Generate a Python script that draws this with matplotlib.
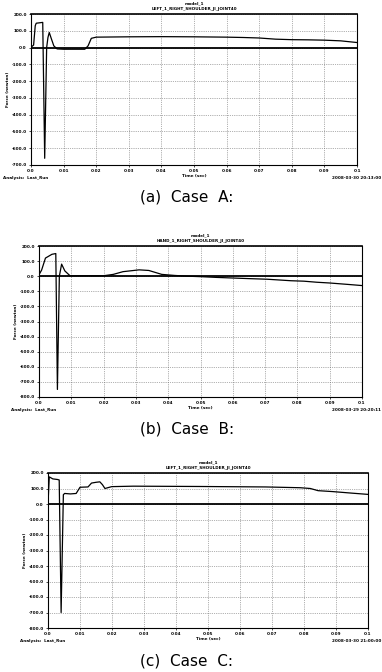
import numpy as np
import matplotlib
matplotlib.use("Agg")
import matplotlib.pyplot as plt
from matplotlib.ticker import FixedLocator

W, H = 382, 672

# ---- data (time in sec, force in newton)
time_a = [0, 0.0002, 0.0008, 0.0013, 0.0016, 0.0036, 0.0042, 0.0048, 0.0052, 0.0056,
          0.0062, 0.0070, 0.0080, 0.010, 0.014, 0.0165, 0.0175, 0.0185, 0.020, 0.030,
          0.040, 0.050, 0.060, 0.065, 0.070, 0.075, 0.080, 0.085, 0.090, 0.095, 0.100]
force_a = [0, 5, 15, 130, 145, 150, -660, 0, 60, 90,
           55, 10, -8, -10, -10, -10, 10, 55, 62, 64,
           65, 64, 62, 60, 57, 50, 47, 46, 44, 40, 30]

time_b = [0, 0.0008, 0.0020, 0.0040, 0.0052, 0.0057, 0.0063, 0.0070, 0.0080, 0.0096,
          0.015, 0.020, 0.023, 0.026, 0.031, 0.034, 0.038, 0.042, 0.046, 0.050,
          0.055, 0.060, 0.065, 0.0706, 0.078, 0.082, 0.086, 0.090, 0.096, 0.100]
force_b = [10, 40, 120, 145, 150, -750, 0, 80, 35, 3,
           3, 3, 12, 30, 42, 38, 12, 5, 0, -3,
           -8, -12, -16, -20, -30, -33, -40, -45, -55, -62]

time_c = [0, 0.0004, 0.0015, 0.0030, 0.0035, 0.0041, 0.0048, 0.0052, 0.0070, 0.0088,
          0.0100, 0.0125, 0.0136, 0.0150, 0.0162, 0.0170, 0.0178, 0.0199, 0.0266, 0.0475,
          0.068, 0.0788, 0.082, 0.0844, 0.089, 0.095, 0.100]
force_c = [0, 175, 162, 158, 155, -700, 60, 68, 65, 68,
           108, 110, 135, 140, 143, 125, 100, 112, 115, 113,
           110, 105, 100, 86, 80, 70, 62]

x_ticks = [0.0, 0.01, 0.02, 0.03, 0.04, 0.05, 0.06, 0.07, 0.08, 0.09, 0.1]
x_labels = ["0.0", "0.01", "0.02", "0.03", "0.04", "0.05", "0.06", "0.07", "0.08", "0.09", "0.1"]
y_ticks_a = [200, 100, 0, -100, -200, -300, -400, -500, -600, -700]
y_ticks_bc = [200, 100, 0, -100, -200, -300, -400, -500, -600, -700, -800]

titles = ["LEFT_1_RIGHT_SHOULDER_JI_JOINT40",
          "HAND_1_RIGHT_SHOULDER_JI_JOINT40",
          "LEFT_1_RIGHT_SHOULDER_JI_JOINT40"]
dates = ["2008-03-30 20:13:00", "2008-03-29 20:20:11", "2008-03-30 21:00:00"]
captions = ["(a)  Case  A:", "(b)  Case  B:", "(c)  Case  C:"]

# pixel boxes: left, top, right, bottom, caption y
boxes = [(31, 14, 357, 165, 197),
         (39, 246, 362, 397, 429),
         (48, 473, 368, 628, 661)]

SMALL = 3.0


def fx(x):
    return x / W


def fy(y):
    return 1 - y / H


fig = plt.figure(figsize=(W / 100, H / 100), dpi=100)
fig.patch.set_facecolor("white")

series = [(time_a, force_a, y_ticks_a), (time_b, force_b, y_ticks_bc),
          (time_c, force_c, y_ticks_bc)]

for i, ((t, f, yt), (l, tp, r, b, cap_y)) in enumerate(zip(series, boxes)):
    ax = fig.add_axes([fx(l), fy(b), (r - l) / W, (b - tp) / H])
    ax.plot(t, f, color="black", lw=0.9, zorder=3)
    ax.axhline(0, color="black", lw=1.3, zorder=2)
    ax.set_xlim(0, 0.1)
    ax.set_ylim(min(yt), max(yt))
    ax.xaxis.set_major_locator(FixedLocator(x_ticks))
    ax.yaxis.set_major_locator(FixedLocator(yt))
    ax.set_xticklabels(x_labels)
    ax.set_yticklabels([f"{v:.1f}" for v in yt])
    ax.tick_params(labelsize=SMALL, length=1.5, width=0.5, pad=1.5, direction="out")
    for lab in ax.get_xticklabels() + ax.get_yticklabels():
        lab.set_fontweight("bold")
    ax.grid(True, linestyle=":", color="0.4", lw=0.5)
    for s in ax.spines.values():
        s.set_linewidth(0.8)
    ax.spines["top"].set_linewidth(1.2)

    cx = (l + r) / 2
    fig.text(fx(cx), fy(tp - 11), "model_1", fontsize=SMALL, fontweight="bold",
             ha="center", va="center")
    fig.text(fx(cx), fy(tp - 5), titles[i], fontsize=SMALL, fontweight="bold",
             ha="center", va="center")
    fig.text(fx(l - 23), fy((tp + b) / 2), "Force (newton)", fontsize=SMALL,
             fontweight="bold", rotation=90, ha="center", va="center")
    fig.text(fx(cx), fy(b + 11), "Time (sec)", fontsize=SMALL, fontweight="bold",
             ha="center", va="center")
    fig.text(fx(l - 28), fy(b + 13), "Analysis:  Last_Run", fontsize=SMALL,
             fontweight="bold", ha="left", va="center")
    fig.text(fx(W - 1), fy(b + 13), dates[i], fontsize=SMALL, fontweight="bold",
             ha="right", va="center")
    fig.text(fx(187), fy(cap_y), captions[i], fontsize=11, ha="center",
             va="center", family="DejaVu Sans")

fig.savefig("out.png", dpi=100)
